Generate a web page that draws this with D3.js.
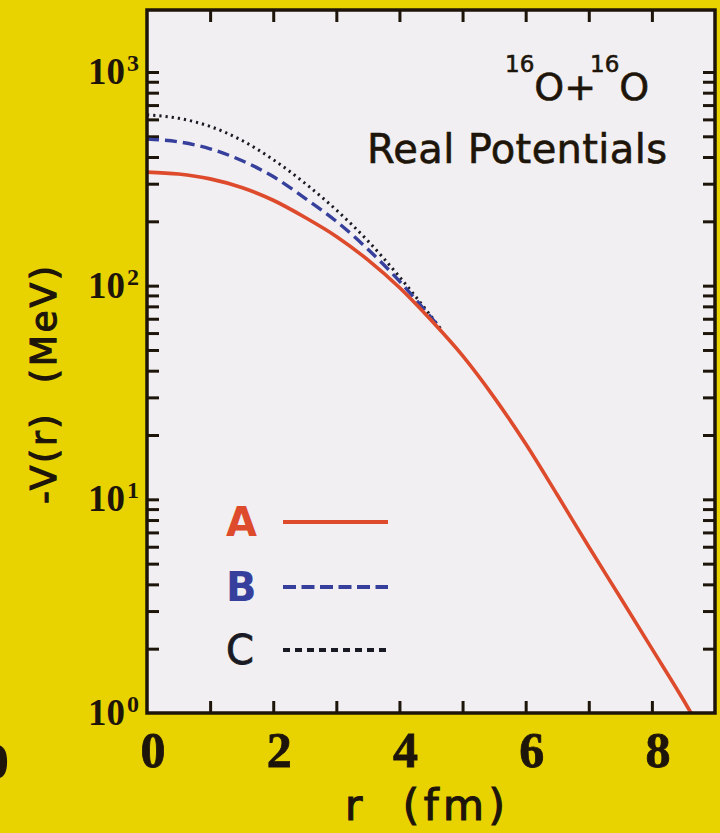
<!DOCTYPE html>
<html>
<head>
<meta charset="utf-8">
<script src="https://cdn.jsdelivr.net/npm/d3@7"></script>
<style>
  html, body { margin: 0; padding: 0; background: #e8d300; }
  svg { display: block; }
</style>
</head>
<body>
<svg id="chart"></svg>
<script>
// radius (fm) and -V(r) (MeV)
const radiusA = [0, 0.5, 1, 1.5, 2, 2.5, 3, 3.5, 4, 4.5, 5, 5.5, 6, 6.5, 7, 7.5, 8, 8.5, 8.62];
const potentialA = [340, 333, 316, 288, 251, 209, 170, 132, 98, 69, 47, 30, 18.2, 10.5, 6.0, 3.47, 2.0, 1.15, 1.0];

const radiusBC = [0, 0.5, 1, 1.5, 2, 2.5, 3, 3.5, 4, 4.5, 4.65];
const potentialB = [485, 471, 437, 385, 324, 257, 200, 148, 105, 71, 63];
const potentialC = [630, 607, 556, 479, 389, 302, 226, 162, 110, 72, 63];

const xTickLabels = [0, 2, 4, 6, 8];
const xTickMarks = [1, 2, 3, 4, 5, 6, 7, 8];
const yDecades = [0, 1, 2, 3];
const legendNames = ["A", "B", "C"];

const width = 720, height = 833;
const svg = d3.select("#chart").attr("width", width).attr("height", height);

const x = d3.scaleLinear().domain([0, 9]).range([147, 715]);
const y = d3.scaleLog().domain([1, 1950]).range([713, 10]);

const ink = "#1e150a";
const colA = "#dd4a2c", colB = "#36409c", colC = "#1a1a24";

// background
svg.append("rect").attr("width", width).attr("height", height).attr("fill", "#e8d300");
svg.append("rect")
  .attr("x", x(0)).attr("y", y(1950))
  .attr("width", x(9) - x(0)).attr("height", y(1) - y(1950))
  .attr("fill", "#f1eff1");

svg.append("clipPath").attr("id", "plotClip")
  .append("rect")
  .attr("x", x(0)).attr("y", y(1950))
  .attr("width", x(9) - x(0)).attr("height", y(1) - y(1950));

// y ticks: decades + minor
let yTicks = [];
yDecades.forEach(p => {
  if (p < 3) d3.range(1, 10).forEach(m => yTicks.push(m * Math.pow(10, p)));
  else yTicks.push(1000);
});
yTicks = yTicks.filter(v => v > 1);

function styleAxis(g) {
  g.select(".domain").remove();
  g.selectAll(".tick line").attr("stroke", ink).attr("stroke-width", 3);
}

svg.append("g").attr("transform", `translate(0,${y(1)})`)
  .call(d3.axisBottom(x).tickValues(xTickMarks).tickSize(-12).tickFormat(""))
  .call(styleAxis);
svg.append("g").attr("transform", `translate(0,${y(1950)})`)
  .call(d3.axisTop(x).tickValues(xTickMarks).tickSize(-12).tickFormat(""))
  .call(styleAxis);
svg.append("g").attr("transform", `translate(${x(0)},0)`)
  .call(d3.axisLeft(y).tickValues(yTicks).tickSize(-12).tickFormat(""))
  .call(styleAxis);
svg.append("g").attr("transform", `translate(${x(9)},0)`)
  .call(d3.axisRight(y).tickValues(yTicks).tickSize(-12).tickFormat(""))
  .call(styleAxis);

// curves
const line = d3.line()
  .x(d => x(d[0]))
  .y(d => y(d[1]))
  .curve(d3.curveMonotoneX);

const curves = svg.append("g").attr("clip-path", "url(#plotClip)").attr("fill", "none");

curves.append("path")
  .attr("d", line(d3.zip(radiusBC, potentialC)))
  .attr("stroke", colC).attr("stroke-width", 3)
  .attr("stroke-dasharray", "2.2,4");

curves.append("path")
  .attr("d", line(d3.zip(radiusBC, potentialB)))
  .attr("stroke", colB).attr("stroke-width", 3.4)
  .attr("stroke-dasharray", "12,6");

curves.append("path")
  .attr("d", line(d3.zip(radiusA, potentialA)))
  .attr("stroke", colA).attr("stroke-width", 3.6);

// frame
svg.append("rect")
  .attr("x", x(0)).attr("y", y(1950))
  .attr("width", x(9) - x(0)).attr("height", y(1) - y(1950))
  .attr("fill", "none").attr("stroke", ink).attr("stroke-width", 3.5);

// x tick labels
svg.append("g")
  .style("font", "bold 50px 'Liberation Serif', serif")
  .attr("fill", ink)
  .attr("stroke", ink).attr("stroke-width", 0.8)
  .attr("text-anchor", "middle")
  .selectAll("text")
  .data(xTickLabels)
  .join("text")
    .attr("x", d => x(d) + 6)
    .attr("y", 767)
    .text(d => d);

// stray label of the neighbouring panel at the left edge
svg.append("text")
  .attr("x", 9).attr("y", 778)
  .attr("text-anchor", "end")
  .style("font", "bold 50px 'Liberation Serif', serif")
  .attr("fill", ink)
  .text("0");

// y tick labels 10^n
const yLab = svg.append("g")
  .style("font-family", "'Liberation Serif', serif")
  .style("font-weight", "bold")
  .attr("fill", ink)
  .attr("text-anchor", "end")
  .selectAll("text")
  .data(yDecades)
  .join("text")
    .attr("x", 139)
    .attr("y", d => y(Math.pow(10, d)) + 12);
yLab.append("tspan").style("font-size", "37px").text("10");
yLab.append("tspan").style("font-size", "24px").attr("dx", 2).attr("dy", -13).text(d => d);

// axis titles
svg.append("text")
  .attr("transform", "translate(56,385) rotate(-90)")
  .attr("text-anchor", "middle")
  .style("font", "36px 'DejaVu Sans', sans-serif")
  .attr("fill", ink)
  .attr("stroke", ink).attr("stroke-width", 1.2)
  .attr("textLength", 238)
  .attr("xml:space", "preserve")
  .text("-V(r)  (MeV)");

svg.append("text")
  .attr("x", 425).attr("y", 820)
  .attr("text-anchor", "middle")
  .style("font", "42px 'DejaVu Sans', sans-serif")
  .attr("fill", ink)
  .attr("stroke", ink).attr("stroke-width", 1.2)
  .attr("textLength", 160)
  .attr("xml:space", "preserve")
  .text("r  (fm)");

// annotations
const note = svg.append("text")
  .attr("x", 505).attr("y", 100)
  .style("font-family", "'DejaVu Sans', sans-serif")
  .attr("fill", ink)
  .attr("stroke", ink).attr("stroke-width", 0.6);
note.append("tspan").attr("y", 72).style("font-size", "23px").text("16");
note.append("tspan").attr("y", 100).style("font-size", "38px").text("O+");
note.append("tspan").attr("y", 72).attr("dx", -6).style("font-size", "23px").text("16");
note.append("tspan").attr("y", 100).style("font-size", "38px").text("O");

svg.append("text")
  .attr("x", 367).attr("y", 163)
  .style("font", "40px 'DejaVu Sans', sans-serif")
  .attr("fill", ink)
  .attr("stroke", ink).attr("stroke-width", 0.6)
  .attr("textLength", 300)
  .text("Real Potentials");

// legend
const legendColors = [colA, colB, colC];
const legendY = [522, 587, 650];
const legendDash = [null, "13,5.5", "7,5"];

const leg = svg.append("g");
legendNames.forEach((name, i) => {
  leg.append("text")
    .attr("x", 226).attr("y", legendY[i] + 14)
    .style("font", (i < 2 ? "bold " : "") + "40px 'DejaVu Sans', sans-serif")
    .attr("fill", legendColors[i])
    .attr("stroke", i < 2 ? null : legendColors[i])
    .attr("stroke-width", i < 2 ? null : 0.8)
    .text(name);
  leg.append("line")
    .attr("x1", 283).attr("x2", 388)
    .attr("y1", legendY[i]).attr("y2", legendY[i])
    .attr("stroke", legendColors[i])
    .attr("stroke-width", 4)
    .attr("stroke-dasharray", legendDash[i]);
});
</script>
</body>
</html>
